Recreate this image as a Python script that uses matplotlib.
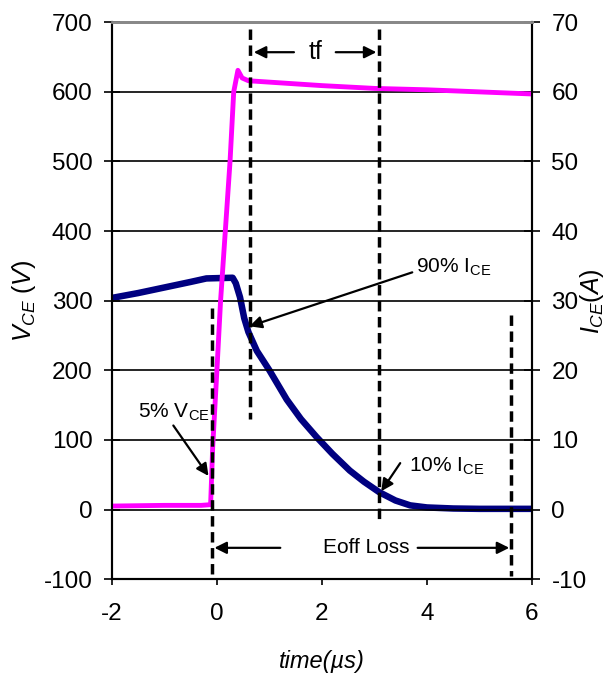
import numpy as np
import matplotlib.pyplot as plt

plt.rcParams['font.family'] = ['Liberation Sans', 'DejaVu Sans']
plt.rcParams['mathtext.fontset'] = 'custom'
plt.rcParams['mathtext.rm'] = 'Liberation Sans'
plt.rcParams['mathtext.it'] = 'Liberation Sans:italic'
plt.rcParams['axes.unicode_minus'] = False

# V_CE trace (V)
t_v = [-2, -1, -0.3, -0.12, -0.08, 0.0, 0.07, 0.16, 0.25, 0.32, 0.40, 0.48, 0.6, 0.8, 1.2, 2, 3, 4, 5, 6]
vce = [5, 6, 6, 7, 90, 200, 300, 400, 500, 600, 631, 620, 616, 615, 613, 609, 605, 603, 600, 597]

# I_CE trace (A)
t_i = [-2, -1.5, -1, -0.5, -0.2, 0.3, 0.36, 0.44, 0.52, 0.6, 0.76, 1.0, 1.33, 1.6, 1.9,
       2.2, 2.53, 2.8, 3.09, 3.4, 3.68, 4, 4.5, 5, 6]
ice = [30.4, 31.1, 31.9, 32.7, 33.2, 33.3, 32.5, 30.5, 27.5, 25.5, 22.8, 20, 15.8, 13, 10.4,
       8, 5.6, 4, 2.5, 1.3, 0.6, 0.3, 0.15, 0.1, 0.1]

# dashed markers: (x, y_top, y_bottom) in volts
markers = [(-0.1, 290, -95), (0.63, 690, 130), (3.09, 690, -20), (5.6, 280, -95)]

fig = plt.figure(figsize=(6.08, 6.75), dpi=100)
ax = fig.add_axes([0.184, 0.142, 0.691, 0.825])
ax2 = ax.twinx()
ax.set_zorder(ax2.get_zorder() + 1)
ax.patch.set_visible(False)

ax2.plot(t_i, ice, color='#000080', lw=4.7, solid_capstyle='butt')
ax.plot(t_v, vce, color='#FF00FF', lw=3.5)

ax.set_xlim(-2, 6)
ax.set_ylim(-100, 700)
ax2.set_ylim(-10, 70)
ax.set_xticks([-2, 0, 2, 4, 6])
ax.set_yticks(range(-100, 701, 100))
ax2.set_yticks(range(-10, 71, 10))
ax.yaxis.grid(True, color='black', lw=1.2)

for a in (ax, ax2):
    a.tick_params(axis='y', labelsize=17.5, length=12, width=1.2, direction='inout', pad=8)
    for s in a.spines.values():
        s.set_linewidth(1.5)
    a.spines['top'].set_color('#888888')
    a.spines['top'].set_linewidth(2)
ax.tick_params(axis='x', labelsize=17.5, length=4, width=1.2, direction='out', pad=13)

ax.set_xlabel('time(µs)', fontsize=17, fontstyle='italic', labelpad=18)
ax.set_ylabel(r'$V_{CE}\ (V)$', fontsize=18, labelpad=4)
ax2.set_ylabel(r'$I_{CE}(A)$', fontsize=18, labelpad=-6)

for x, y0, y1 in markers:
    ax.plot([x, x], [y0, y1], color='black', lw=2.5, dashes=(3, 1.6))

arr = dict(arrowstyle='-|>', lw=1.6, color='black', mutation_scale=18)
ax.annotate('', xy=(0.65, 657), xytext=(1.52, 657), arrowprops=arr)
ax.annotate('', xy=(3.09, 657), xytext=(2.21, 657), arrowprops=arr)
ax.text(1.87, 657, 'tf', fontsize=18, ha='center', va='center')

ax.annotate('', xy=(-0.1, -55), xytext=(1.26, -55), arrowprops=arr)
ax.annotate('', xy=(5.62, -55), xytext=(3.77, -55), arrowprops=arr)
ax.text(2.85, -55, 'Eoff Loss', fontsize=15, ha='center', va='center')

ax.annotate('', xy=(-0.13, 45), xytext=(-0.86, 124), arrowprops=arr)
ax.text(-0.82, 140, r'5% V$_{\rm CE}$', fontsize=15, ha='center', va='center')

ax.annotate('', xy=(0.57, 262), xytext=(3.77, 342), arrowprops=arr)
ax.text(3.8, 348, r'90% I$_{\rm CE}$', fontsize=15, ha='left', va='center')

ax.annotate('', xy=(3.1, 23), xytext=(3.52, 70), arrowprops=arr)
ax.text(3.66, 62, r'10% I$_{\rm CE}$', fontsize=15, ha='left', va='center')

fig.savefig('out.png', dpi=100)
